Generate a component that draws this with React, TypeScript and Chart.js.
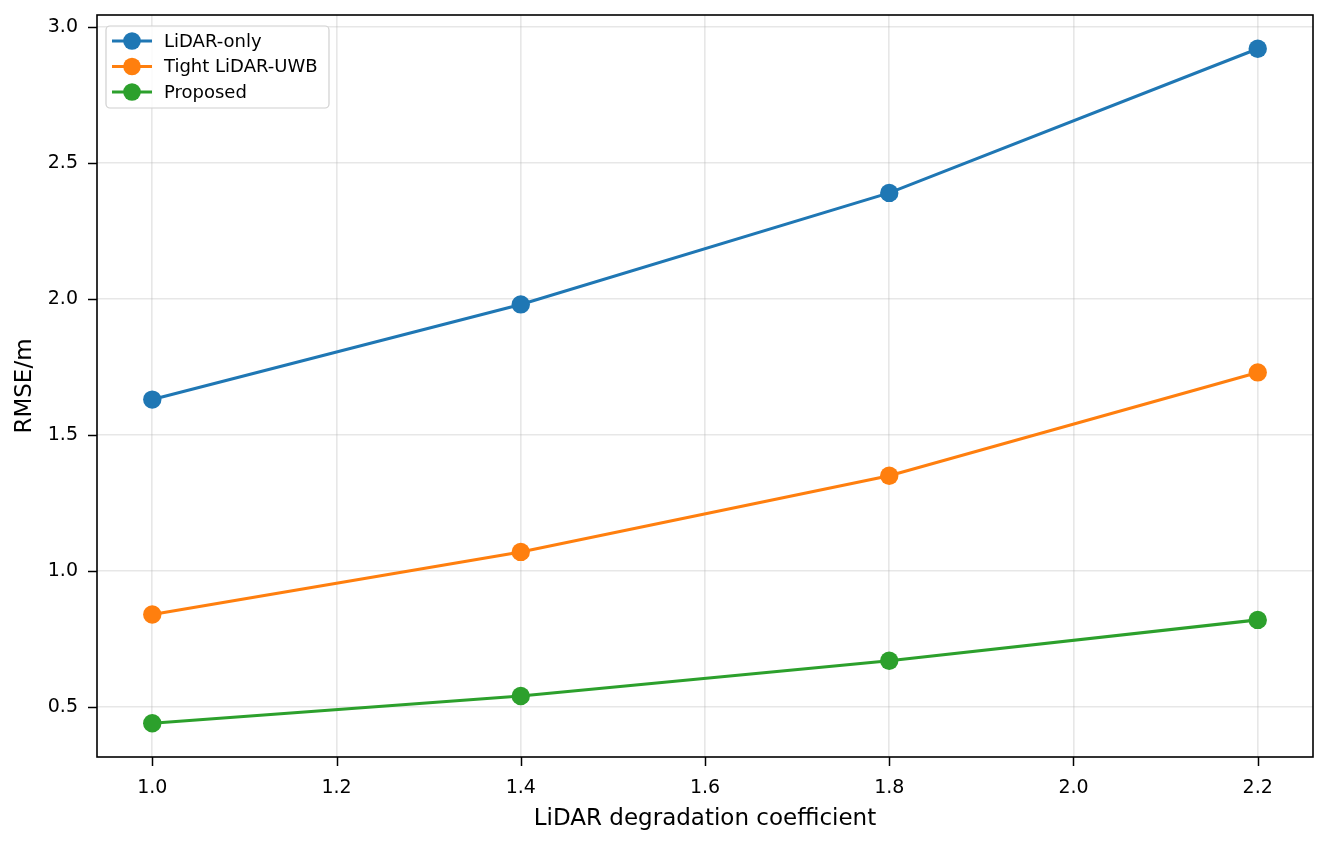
import React, { useEffect, useRef } from "react";
import { Chart, registerables } from "chart.js";

Chart.register(...registerables);

const xValues = [1.0, 1.4, 1.8, 2.2];
const lidarOnly = [1.63, 1.98, 2.39, 2.92];
const tightLidarUwb = [0.84, 1.07, 1.35, 1.73];
const proposed = [0.44, 0.54, 0.67, 0.82];
const seriesLabels = ["LiDAR-only", "Tight LiDAR-UWB", "Proposed"];
const seriesColors = ["#1f77b4", "#ff7f0e", "#2ca02c"];
const xTicks = [1.0, 1.2, 1.4, 1.6, 1.8, 2.0, 2.2];
const yTicks = [0.5, 1.0, 1.5, 2.0, 2.5, 3.0];
const xTitle = "LiDAR degradation coefficient";
const yTitle = "RMSE/m";

const FONT = "'DejaVu Sans', sans-serif";

const framePlugin = {
  id: "frame",
  afterDatasetsDraw(chart: any) {
    const { ctx, chartArea: a } = chart;
    ctx.save();
    ctx.strokeStyle = "#000";
    ctx.lineWidth = 1.6;
    ctx.strokeRect(a.left, a.top, a.right - a.left, a.bottom - a.top);
    ctx.lineWidth = 1.5;
    const xs = chart.scales.x;
    xTicks.forEach((v) => {
      const px = Math.round(xs.getPixelForValue(v)) + 0.5;
      ctx.beginPath();
      ctx.moveTo(px, a.bottom);
      ctx.lineTo(px, a.bottom + 9);
      ctx.stroke();
    });
    const ys = chart.scales.y;
    yTicks.forEach((v) => {
      const py = Math.round(ys.getPixelForValue(v)) + 0.5;
      ctx.beginPath();
      ctx.moveTo(a.left, py);
      ctx.lineTo(a.left - 9, py);
      ctx.stroke();
    });
    ctx.restore();
  },
};

const legendPlugin = {
  id: "mplLegend",
  afterDraw(chart: any) {
    const { ctx, chartArea: a } = chart;
    const bx = a.left + 9;
    const by = a.top + 11;
    const bw = 223;
    const bh = 82;
    ctx.save();
    ctx.beginPath();
    const r = 4;
    ctx.moveTo(bx + r, by);
    ctx.arcTo(bx + bw, by, bx + bw, by + bh, r);
    ctx.arcTo(bx + bw, by + bh, bx, by + bh, r);
    ctx.arcTo(bx, by + bh, bx, by, r);
    ctx.arcTo(bx, by, bx + bw, by, r);
    ctx.closePath();
    ctx.fillStyle = "rgba(255,255,255,0.85)";
    ctx.fill();
    ctx.strokeStyle = "#d0d0d0";
    ctx.lineWidth = 1.2;
    ctx.stroke();
    chart.data.datasets.forEach((ds: any, i: number) => {
      const y = by + 15 + i * 25.5;
      ctx.strokeStyle = ds.borderColor;
      ctx.lineWidth = 3;
      ctx.beginPath();
      ctx.moveTo(bx + 6, y);
      ctx.lineTo(bx + 46, y);
      ctx.stroke();
      ctx.fillStyle = ds.borderColor;
      ctx.beginPath();
      ctx.arc(bx + 26, y, 8.8, 0, Math.PI * 2);
      ctx.fill();
      ctx.fillStyle = "#000";
      ctx.font = `18px ${FONT}`;
      ctx.textBaseline = "middle";
      ctx.textAlign = "left";
      ctx.fillText(ds.label, bx + 58, y + 1);
    });
    ctx.restore();
  },
};

export default function App() {
  const ref = useRef<HTMLCanvasElement>(null);
  useEffect(() => {
    if (!ref.current) return;
    const series = [lidarOnly, tightLidarUwb, proposed];
    const gridOpts = {
      color: "rgba(176,176,176,0.3)",
      lineWidth: 1.6,
      tickColor: "rgba(0,0,0,0)",
      tickLength: 9,
      drawTicks: true,
    };
    const chart = new Chart(ref.current, {
      type: "line",
      data: {
        datasets: series.map((vals, i) => ({
          label: seriesLabels[i],
          data: vals.map((v, j) => ({ x: xValues[j], y: v })),
          borderColor: seriesColors[i],
          backgroundColor: seriesColors[i],
          borderWidth: 3.1,
          pointRadius: 9.2,
          pointHoverRadius: 9.2,
          pointBorderWidth: 0,
          tension: 0,
        })),
      },
      options: {
        responsive: false,
        animation: false,
        devicePixelRatio: 1,
        layout: { padding: { top: 15, right: 13, left: 0, bottom: 0 } },
        plugins: { legend: { display: false }, tooltip: { enabled: false } },
        scales: {
          x: {
            type: "linear",
            min: 0.94,
            max: 2.26,
            afterBuildTicks: (s: any) => {
              s.ticks = xTicks.map((v) => ({ value: v }));
            },
            afterFit: (s: any) => {
              s.height = 85;
              s.paddingLeft = 0;
              s.paddingRight = 0;
            },
            ticks: {
              callback: (v: any) => Number(v).toFixed(1),
              font: { family: FONT, size: 19 },
              color: "#000",
              padding: 11,
              maxRotation: 0,
            },
            grid: gridOpts,
            border: { display: false },
            title: {
              display: true,
              text: xTitle,
              font: { family: FONT, size: 23 },
              color: "#000",
              padding: { top: 4, bottom: 9 },
            },
          },
          y: {
            type: "linear",
            min: 0.316,
            max: 3.044,
            afterBuildTicks: (s: any) => {
              s.ticks = yTicks.map((v) => ({ value: v }));
            },
            afterFit: (s: any) => {
              s.width = 97;
              s.paddingTop = 0;
              s.paddingBottom = 0;
            },
            ticks: {
              callback: (v: any) => Number(v).toFixed(1),
              font: { family: FONT, size: 19 },
              color: "#000",
              padding: 10,
            },
            grid: gridOpts,
            border: { display: false },
            title: {
              display: true,
              text: yTitle,
              font: { family: FONT, size: 23 },
              color: "#000",
              padding: { top: 11, bottom: 4 },
            },
          },
        },
      },
      plugins: [framePlugin, legendPlugin],
    } as any);
    return () => chart.destroy();
  }, []);
  return (
    <div style={{ position: "fixed", left: 0, top: 0, width: 1326, height: 842, background: "#fff" }}>
      <canvas ref={ref} width={1326} height={842} style={{ width: 1326, height: 842 }} />
    </div>
  );
}
